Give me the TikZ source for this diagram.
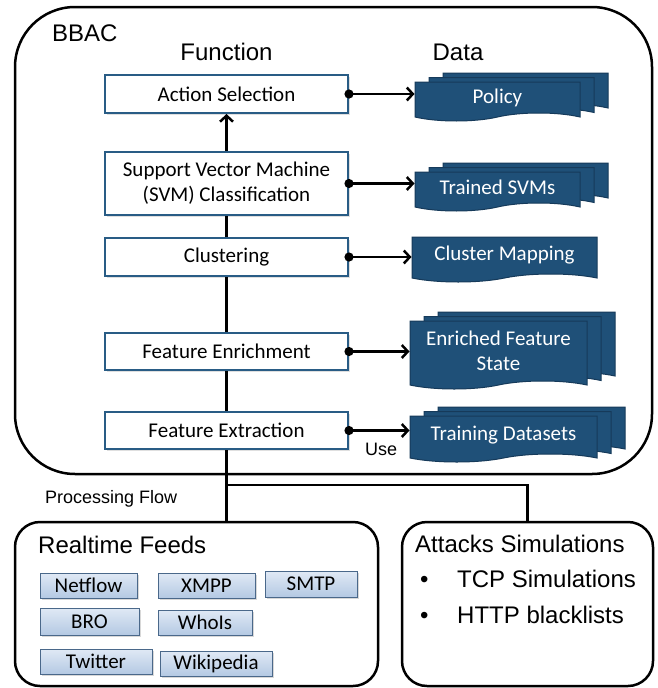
\documentclass[tikz,border=0pt]{standalone}
\usepackage{fontspec}
\setmainfont{Carlito}
\newfontfamily\arialfont{Liberation Sans}
\usetikzlibrary{arrows, arrows.meta, shapes.symbols, shadows}

\definecolor{funcblue}{RGB}{41,92,133}
\definecolor{datablue}{RGB}{31,80,120}
\definecolor{dataedge}{RGB}{22,58,90}
\definecolor{feedtop}{RGB}{224,233,245}
\definecolor{feedbot}{RGB}{180,201,227}
\definecolor{feededge}{RGB}{74,104,138}

\tikzset{
    funcbox/.style={draw=funcblue, line width=2pt, fill=white, minimum width=243pt, inner sep=0pt,
        align=center, font=\fontsize{21}{25}\selectfont,
        drop shadow={opacity=0.25, shadow xshift=1.5pt, shadow yshift=-1.5pt}},
    databox/.style={tape, tape bend top=none, tape bend bottom=in and out, tape bend height=8pt,
        draw=dataedge, fill=datablue, line width=1pt, text=white, align=center, inner sep=0pt,
        font=\fontsize{21}{25}\selectfont},
    stacked/.style={
        copy shadow={shadow xshift=28pt, shadow yshift=9pt, fill=datablue, draw=dataedge, line width=1pt},
        copy shadow={shadow xshift=14pt, shadow yshift=4.5pt, fill=datablue, draw=dataedge, line width=1pt}},
    feedbox/.style={draw=feededge, line width=1pt, top color=feedtop, bottom color=feedbot,
        inner sep=0pt, font=\fontsize{21}{25}\selectfont,
        drop shadow={opacity=0.3, shadow xshift=1.5pt, shadow yshift=-1.5pt}},
    groupbox/.style={draw, line width=2.5pt, fill=white},
    headtext/.style={font=\arialfont\fontsize{24}{36}\selectfont, inner sep=0pt},
    smalltext/.style={font=\arialfont\fontsize{18}{22}\selectfont, inner sep=0pt},
    flow/.style={line width=2.5pt},
    store/.style={line width=2.5pt, shorten <=-4.5pt, {Circle[length=9pt]}-{Straight Barb[length=6pt, width=13pt]}},
}

\begin{document}
\begin{tikzpicture}[x=1pt, y=-1pt]
    \useasboundingbox (0,0) rectangle (657,688);

    % containers
    \node[groupbox, rounded corners=60pt, minimum width=637pt, minimum height=467pt] (bbac) at (333.5,240.5) {};
    \node[groupbox, rounded corners=25pt, minimum width=363pt, minimum height=164pt] (feeds) at (196.5,604) {};
    \node[groupbox, rounded corners=25pt, minimum width=251pt, minimum height=164pt] (atk) at (527.5,604) {};

    \node[headtext, anchor=base west] (bbacname) at (52,41) {BBAC};
    \node[headtext, anchor=base] (funchead) at (226.5,60) {Function};
    \node[headtext, anchor=base] (datahead) at (458,60) {Data};

    % function chain
    \node[funcbox, minimum height=38pt] (act) at (226.5,94) {Action Selection};
    \node[funcbox, minimum height=63pt] (svm) at (226.5,183.5) {Support Vector Machine\\(SVM) Classification};
    \node[funcbox, minimum height=38pt] (clu) at (226.5,257) {Clustering};
    \node[funcbox, minimum height=37pt] (fenr) at (226.5,351.5) {Feature Enrichment};
    \node[funcbox, minimum height=37pt] (fext) at (226.5,430.5) {Feature Extraction};

    % data stores
    \node[databox, stacked, minimum width=165pt, minimum height=39pt] (pol) at (497.5,97.5) {Policy};
    \node[databox, stacked, minimum width=165pt, minimum height=39pt] (tsvm) at (497.5,187.5) {Trained SVMs};
    \node[databox, minimum width=185pt, minimum height=45pt] (map) at (504.5,255.5) {Cluster Mapping};
    \node[databox, stacked, minimum width=177pt, minimum height=68pt] (efs) at (498.5,351) {Enriched Feature\\State};
    \node[databox, stacked, minimum width=187pt, minimum height=46pt] (tds) at (503.5,435) {Training Datasets};

    \draw[flow] (fext.north) -- (fenr.south);
    \draw[flow] (fenr.north) -- (clu.south);
    \draw[flow] (clu.north) -- (svm.south);
    \draw[flow, -{Straight Barb[length=6pt, width=13pt]}] (svm.north) -- (act.south);

    \draw[store] (act.east) -- (act.east -| pol.west);
    \draw[store] (svm.east) -- (svm.east -| tsvm.west);
    \draw[store] (clu.east) -- (clu.east -| map.west);
    \draw[store] (fenr.east) -- (fenr.east -| efs.west);
    \draw[store] (fext.east) -- (fext.east -| tds.west);
    \node[smalltext, anchor=base west] (use) at (365,455) {Use};

    % processing flow to the sources
    \coordinate (fork) at (226.5,485);
    \draw[flow] (fext.south) -- (fext.south |- feeds.north);
    \draw[flow] (fork) -| (atk.north);
    \node[smalltext, anchor=base west] (procflow) at (45,503) {Processing Flow};

    % realtime feeds
    \node[headtext, anchor=base west] (feedname) at (38,553) {Realtime Feeds};
    \node[feedbox, minimum width=97pt, minimum height=25pt] (netflow) at (88.5,585.5) {Netflow};
    \node[feedbox, minimum width=97pt, minimum height=25pt] (xmpp) at (206.5,585.5) {XMPP};
    \node[feedbox, minimum width=92pt, minimum height=26pt] (smtp) at (311,584) {SMTP};
    \node[feedbox, minimum width=99pt, minimum height=27pt] (bro) at (89.5,621.5) {BRO};
    \node[feedbox, minimum width=94pt, minimum height=25pt] (whois) at (205,622.5) {WhoIs};
    \node[feedbox, minimum width=112pt, minimum height=25pt] (twitter) at (96,661.5) {Twitter};
    \node[feedbox, minimum width=112pt, minimum height=25pt] (wiki) at (216,663.5) {Wikipedia};

    % attacks simulations
    \node[headtext, anchor=base west] (atkname) at (415,552) {Attacks Simulations};
    \node[headtext, anchor=base west] (tcp) at (420,587) {\makebox[37pt][l]{•}TCP Simulations};
    \node[headtext, anchor=base west] (http) at (420,623) {\makebox[37pt][l]{•}HTTP blacklists};
\end{tikzpicture}
\end{document}
